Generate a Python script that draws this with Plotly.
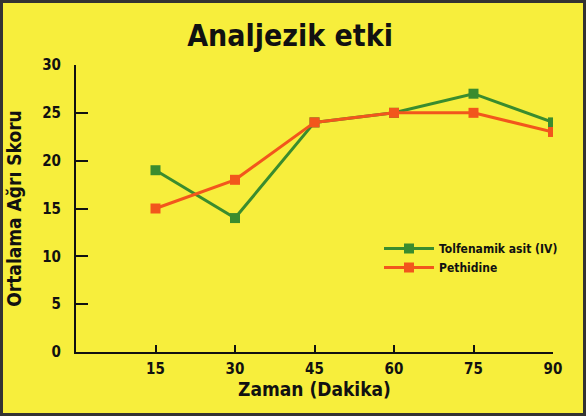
import plotly.graph_objects as go

times = [15, 30, 45, 60, 75, 90]
tolfenamik = [19, 14, 24, 25, 27, 24]
pethidine = [15, 18, 24, 25, 25, 23]
series_names = ["Tolfenamik asit (IV)", "Pethidine"]
x_ticks = [15, 30, 45, 60, 75, 90]
y_ticks = [0, 5, 10, 15, 20, 25, 30]

FONT = "Liberation Sans Narrow, DejaVu Sans Condensed, Arial Narrow, sans-serif"
GREEN = "#3a8c2e"
ORANGE = "#f2561c"
BG = "#f7ee3c"

fig = go.Figure()
fig.add_trace(go.Scatter(x=times, y=tolfenamik, name=series_names[0], mode="lines+markers",
                         line=dict(color=GREEN, width=3),
                         marker=dict(symbol="square", size=10, color=GREEN)))
fig.add_trace(go.Scatter(x=times, y=pethidine, name=series_names[1], mode="lines+markers",
                         line=dict(color=ORANGE, width=3),
                         marker=dict(symbol="square", size=10, color=ORANGE)))

L, R, T, B = 76, 33, 65, 64
W, H = 586, 416
pw, ph = W - L - R, H - T - B

def px(xp):
    return (xp - L) / pw

def py(yp):
    return (H - B - yp) / ph

fig.update_layout(
    width=W, height=H,
    margin=dict(l=L, r=R, t=T, b=B),
    paper_bgcolor=BG, plot_bgcolor=BG,
    font=dict(family=FONT, color="#111111", size=15, weight="bold"),
    title=dict(text="Analjezik etki", x=0.495, xanchor="center", y=0.915, yanchor="middle",
               font=dict(family=FONT, size=30, color="#111111", weight="bold")),
    xaxis=dict(range=[0, 90], tickvals=x_ticks, ticks="inside", ticklen=7, tickwidth=2,
               tickcolor="#111111", showline=True, linecolor="#111111", linewidth=2,
               showgrid=False, zeroline=False, ticklabelstandoff=2,
               title=dict(text="Zaman (Dakika)", standoff=4,
                          font=dict(family=FONT, size=19, weight="bold"))),
    yaxis=dict(range=[0, 30], tickvals=y_ticks, ticks="inside", ticklen=12, tickwidth=2,
               tickcolor="#111111", showline=True, linecolor="#111111", linewidth=2,
               showgrid=False, zeroline=False, ticklabelstandoff=10,
               title=dict(text="Ortalama Ağrı Skoru", standoff=16,
                          font=dict(family=FONT, size=19, weight="bold"))),
    legend=dict(x=px(379), y=py(234), xanchor="left", yanchor="top",
                bgcolor="rgba(0,0,0,0)", font=dict(family=FONT, size=12, weight="bold"),
                itemwidth=50, tracegroupgap=0),
    showlegend=True,
)

fig.add_shape(type="rect", xref="paper", yref="paper",
              x0=px(1.5), x1=px(W - 1.5), y0=py(H - 1.5), y1=py(1.5),
              line=dict(color="#333333", width=3), fillcolor="rgba(0,0,0,0)", layer="above")

fig.write_html("out.html", config={"displayModeBar": False},
               post_script="document.body.style.margin='0';")
